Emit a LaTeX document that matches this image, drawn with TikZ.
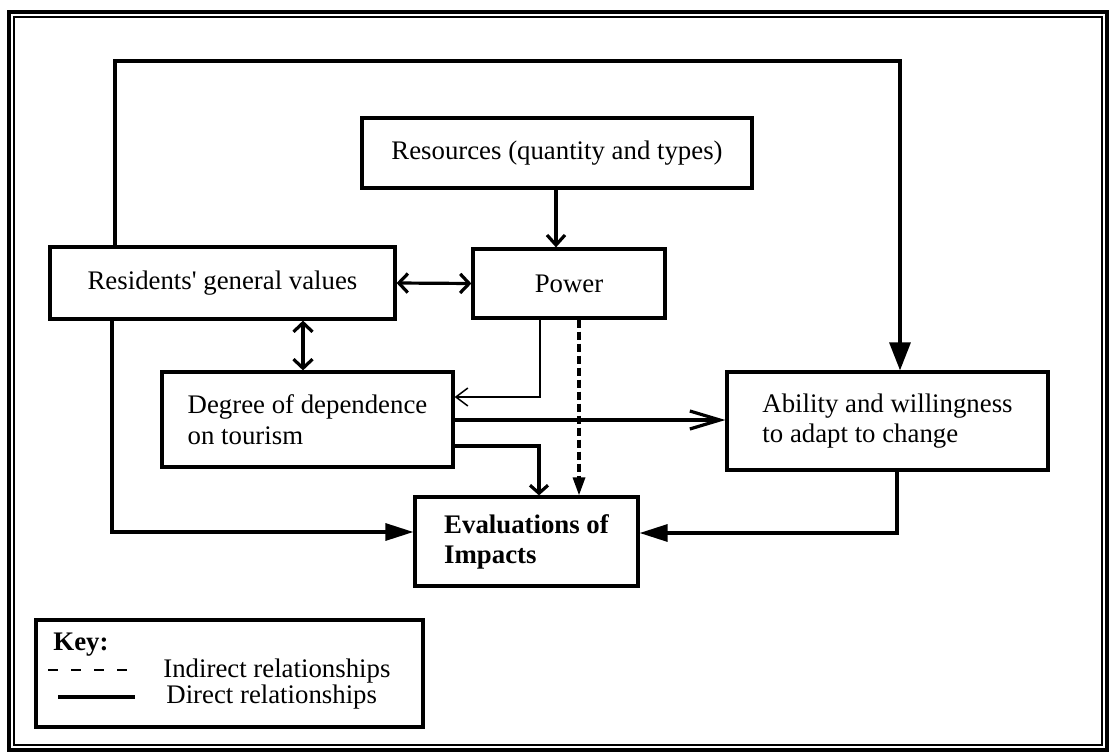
\documentclass[tikz,border=0pt]{standalone}
\usepackage{fontspec}
\setmainfont{Liberation Serif}
\usetikzlibrary{arrows.meta}
\begin{document}
\begin{tikzpicture}[x=0.5pt,y=-0.5pt,
  txt/.style={font=\fontsize{13.4}{15.5}\selectfont},
  box/.style={draw, line width=1.6pt, rectangle, inner sep=0pt, txt},
  mbox/.style={box, align=left},
  conn/.style={line width=1.6pt},
  thin/.style={line width=0.75pt},
  oa/.style={-{Straight Barb[length=5pt,width=9pt]}},
  ob/.style={{Straight Barb[length=4.5pt,width=9.5pt]}-{Straight Barb[length=4.5pt,width=9.5pt]}},
  obig/.style={-{Straight Barb[length=15pt,width=9pt]}},
  osmall/.style={-{Straight Barb[length=4pt,width=9pt]}},
  fa/.style={-{Triangle[length=14pt,width=8.5pt]}},
  fbig/.style={-{Triangle[length=14pt,width=10.5pt]}},
  fdash/.style={-{Triangle[length=9pt,width=6pt]}},
  dsh/.style={dash pattern=on 4pt off 2pt}
]
\useasboundingbox (0,0) rectangle (1112,754);
% frame
\draw[line width=2pt] (9,12) rectangle (1107,750);
\draw[line width=0.6pt] (14,17) rectangle (1102,745);

% boxes
\node[box, minimum width=172.5pt, minimum height=36pt] (res) at (222.5,283) {Residents\textquotesingle\ general values};
\node[box, minimum width=195pt, minimum height=35pt] (resr) at (557,153) {Resources (quantity and types)};
\node[box, minimum width=96pt, minimum height=34.5pt] (pow) at (569,283.5) {Power};
\node[mbox, minimum width=145.5pt, minimum height=47.5pt, font=\fontsize{13.4}{15.5}\selectfont] (deg) at (307.5,419.5) {Degree of dependence\\on tourism};
\node[mbox, minimum width=160.5pt, minimum height=49pt, font=\fontsize{13.4}{15}\selectfont] (abil) at (887.5,421) {Ability and willingness\\to adapt to change};
\node[mbox, minimum width=111.5pt, minimum height=44.5pt, font=\fontsize{13.4}{15}\selectfont\bfseries] (eval) at (526.5,541.5) {Evaluations of\\Impacts};

% helper coordinates
\coordinate (c1) at (115,61);
\coordinate (c2) at (900,61);
\coordinate (c3) at (112,532);
\coordinate (c4) at (897,533);
\coordinate (c5) at (556,0);
\coordinate (c7) at (303,0);
\coordinate (c8) at (540,397);
\coordinate (c9) at (579,0);
\coordinate (c10) at (0,420);
\coordinate (c11) at (539,446);

% connectors
\draw[conn, fbig] (res.north -| c1) -- (c1) -- (c2) -- (abil.north -| c2);
\draw[conn, fa] (res.south -| c3) -- (c3) -- (eval.west |- c3);
\draw[conn, fa] (abil.south -| c4) -- (c4) -- (eval.east |- c4);
\draw[conn, oa] (resr.south -| c5) -- (pow.north -| c5);
\draw[conn, ob] (res.east) -- (pow.west);
\draw[conn, ob] (res.south -| c7) -- (deg.north -| c7);
\draw[thin, -{Straight Barb[length=6pt,width=9pt]}] (pow.south -| c8) -- (c8) -- (deg.east |- c8);
\draw[conn, dsh, fdash] (pow.south -| c9) -- (eval.north -| c9);
\draw[conn, obig] (deg.east |- c10) -- (abil.west |- c10);
\draw[conn, osmall] (deg.east |- c11) -- (c11) -- (eval.north -| c11);

% key
\node[draw, line width=1.6pt, minimum width=193.5pt, minimum height=53.5pt, inner sep=0pt] (key) at (229.5,673.5) {};
\node[txt, anchor=base west, font=\fontsize{13.4}{15.5}\selectfont\bfseries, inner sep=0pt] (keyt) at (53,650) {Key:};
\coordinate (d1) at (48,670);
\coordinate (d2) at (127,670);
\draw[line width=0.8pt, dash pattern=on 5pt off 6.5pt] (d1) -- (d2);
\node[txt, anchor=base west, inner sep=0pt] (ind) at (163,677) {Indirect relationships};
\coordinate (s1) at (58,697);
\coordinate (s2) at (135,697);
\draw[conn] (s1) -- (s2);
\node[txt, anchor=base west, inner sep=0pt] (dir) at (166,703) {Direct relationships};
\end{tikzpicture}
\end{document}
